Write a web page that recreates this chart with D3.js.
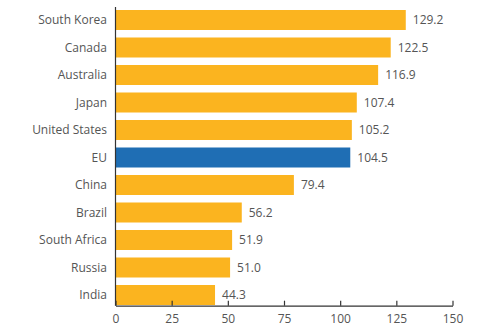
<!DOCTYPE html>
<html><head><meta charset="utf-8">
<script src="https://cdn.jsdelivr.net/npm/d3@7"></script>
<style>body{margin:0;background:#fff}svg{display:block}text{font-family:"Open Sans",sans-serif}</style>
</head><body><svg id="c" width="500" height="333"></svg>
<script>
const categories = ["South Korea","Canada","Australia","Japan","United States","EU","China","Brazil","South Africa","Russia","India"];
const values = [129.2,122.5,116.9,107.4,105.2,104.5,79.4,56.2,51.9,51.0,44.3];
const highlight = ["EU"];
const ticks = [0,25,50,75,100,125,150];

const svg = d3.select("#c");
const x = d3.scaleLinear().domain([0,150]).range([115.5,452.5]);
const y = d3.scaleBand().domain(categories).range([6.25,308.75]).paddingInner(0.2727).paddingOuter(0.1364);

svg.selectAll("rect.bar").data(categories).join("rect")
  .attr("x", x(0)+0.5).attr("y", d=>y(d)).attr("height", y.bandwidth())
  .attr("width", (d,i)=>x(values[i])-x(0)-0.5)
  .attr("fill", d=>highlight.includes(d)?"#1f6eb4":"#fbb41f");

svg.selectAll("text.val").data(categories).join("text")
  .attr("x",(d,i)=>x(values[i])+7).attr("y",d=>y(d)+y.bandwidth()/2).attr("dy","0.35em")
  .attr("font-size",12).attr("fill","#555").text((d,i)=>values[i].toFixed(1));

svg.selectAll("text.cat").data(categories).join("text")
  .attr("x",107).attr("y",d=>y(d)+y.bandwidth()/2).attr("dy","0.35em")
  .attr("text-anchor","end").attr("font-size",12).attr("fill","#555").text(d=>d);

// left axis line
svg.append("line").attr("x1",x(0)).attr("x2",x(0)).attr("y1",7).attr("y2",305.7).attr("stroke","#333").attr("stroke-width",1.2);

const xa = svg.append("g").attr("transform","translate(0,305.7)")
  .call(d3.axisBottom(x).tickValues(ticks).tickSize(-5).tickPadding(9).tickSizeOuter(0));
xa.select(".domain").attr("stroke","#333").attr("stroke-width",1.2);
xa.selectAll(".tick line").attr("stroke","#333").attr("stroke-width",1.2);
xa.selectAll(".tick text").attr("font-size",12).attr("fill","#555").attr("font-family","'Open Sans',sans-serif");
</script></body></html>
